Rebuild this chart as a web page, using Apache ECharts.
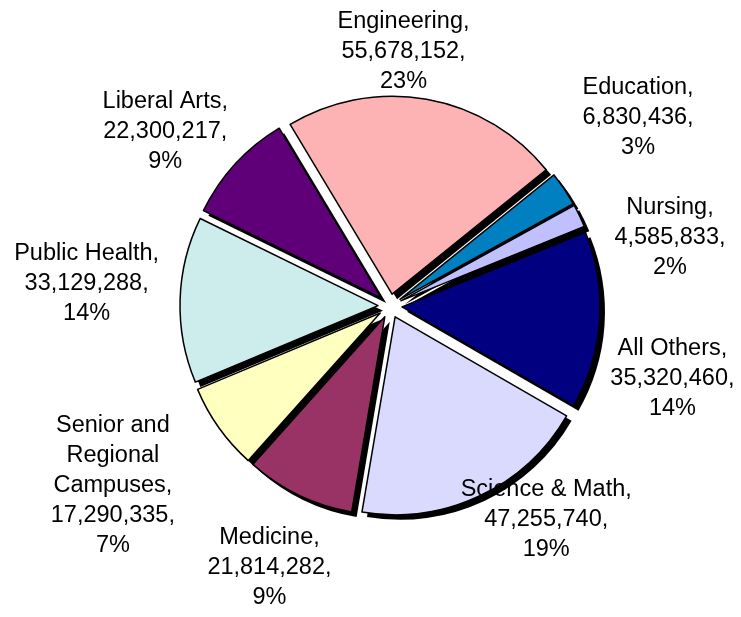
<!DOCTYPE html>
<html>
<head>
<meta charset="utf-8">
<script src="https://cdn.jsdelivr.net/npm/echarts@6/dist/echarts.min.js"></script>
<style>html,body{margin:0;padding:0;background:#fff}#c{width:741px;height:617px}</style>
</head>
<body>
<div id="c"></div>
<script>
// ---- data ----
const categories = ['Engineering', 'Education', 'Nursing', 'All Others', 'Science & Math',
  'Medicine', 'Senior and\nRegional\nCampuses', 'Public Health', 'Liberal Arts'];
const values = [55678152, 6830436, 4585833, 35320460, 47255740, 21814282, 17290335, 33129288, 22300217];

// ---- styles ----
const colors = ['#FDB3B3', '#0080C0', '#C0C0FF', '#000080', '#DADAFF', '#993366', '#FFFFC0', '#CDEDED', '#600078'];
const labelNudge = [[-36, 4], [21, -42], [33, 45], [3, 54], [27, -24], [1, 25], [-49, 10], [-13, -15], [-18, 3]];
const CX = 390, CY = 306, RADIUS = 198, EXPLODE = 12, START = 121, GAP = 8;

const total = values.reduce((a, b) => a + b, 0);
const mids = [];
let cum = 0;
values.forEach(v => { mids.push((START - 360 * (cum + v / 2) / total) * Math.PI / 180); cum += v; });

const chart = echarts.init(document.getElementById('c'), null, {renderer: 'canvas'});
const mkData = (kind) => categories.map((n, i) => ({
  name: n, value: values[i], selected: kind !== 'label',
  itemStyle: kind === 'shadow' ? {color: '#000', borderWidth: 0}
    : kind === 'label' ? {color: 'rgba(0,0,0,0)', borderWidth: 0}
    : {color: colors[i]}
}));
const common = {
  type: 'pie', radius: RADIUS, startAngle: START, clockwise: true,
  avoidLabelOverlap: false, emphasis: {disabled: true}
};

chart.setOption({
  animation: false,
  series: [
    Object.assign({}, common, {
      silent: true, center: [CX + 5, CY + 5],
      selectedMode: 'multiple', selectedOffset: EXPLODE,
      label: {show: false}, labelLine: {show: false},
      data: mkData('shadow')
    }),
    Object.assign({}, common, {
      center: [CX, CY],
      selectedMode: 'multiple', selectedOffset: EXPLODE,
      itemStyle: {borderColor: '#000', borderWidth: 1.5},
      label: {show: false}, labelLine: {show: false},
      data: mkData('slice')
    }),
    Object.assign({}, common, {
      silent: true, center: [CX, CY], selectedMode: false,
      labelLine: {show: false, length: 10, length2: 0},
      label: {
        show: true, position: 'outside', color: '#000',
        fontFamily: '"Liberation Sans", Arial, sans-serif', fontSize: 23.5, lineHeight: 30,
        formatter: p => p.name + ',\n' + p.value.toLocaleString('en-US') + ',\n' + Math.round(p.percent) + '%'
      },
      labelLayout: function (params) {
        const i = params.dataIndex;
        const a = mids[i];
        const dx = Math.cos(a), dy = -Math.sin(a);
        const w = params.labelRect.width, h = params.labelRect.height;
        const R = RADIUS + EXPLODE + GAP;
        return {
          x: CX + R * dx + dx * w / 2 + labelNudge[i][0],
          y: CY + R * dy + dy * h / 2 + labelNudge[i][1],
          align: 'center', verticalAlign: 'middle'
        };
      },
      data: mkData('label')
    })
  ]
});
</script>
</body>
</html>
